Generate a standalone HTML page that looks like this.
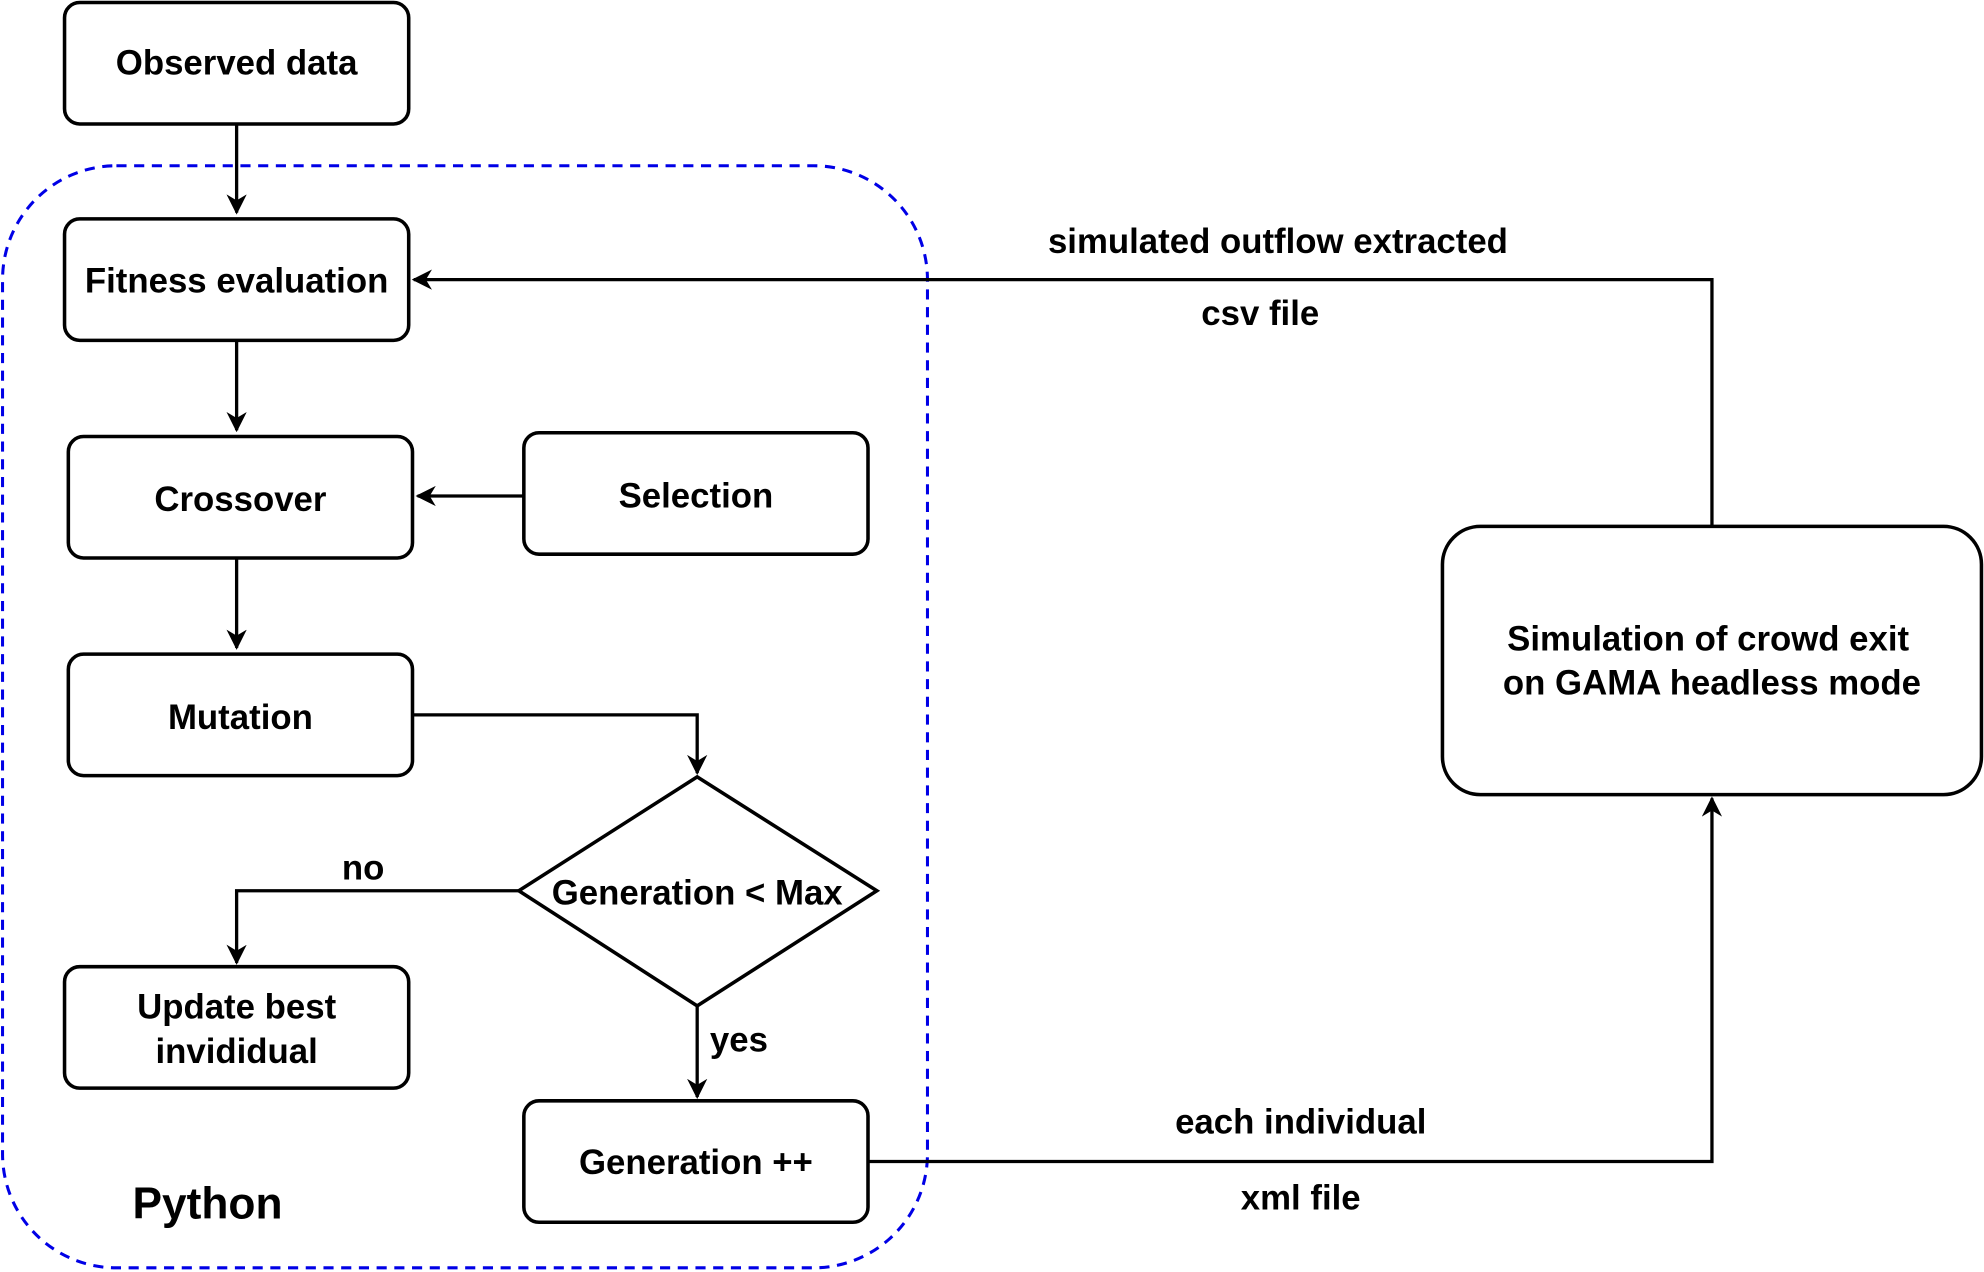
<!DOCTYPE html>
<html><head><meta charset="utf-8"><style>
html,body{margin:0;padding:0;background:#fff;}
svg{display:block;}
text{font-family:"Liberation Sans",sans-serif;font-weight:bold;fill:#000;}
</style></head><body>
<svg width="1984" height="1272" viewBox="0 0 1568 1005.3" xmlns="http://www.w3.org/2000/svg">
<defs>
<marker id="b" viewBox="0 0 10 10" refX="9" refY="5" markerWidth="16" markerHeight="16" markerUnits="userSpaceOnUse" orient="auto">
<path d="M0,0 L10,5 L0,10 L3,5 Z" fill="#000"/></marker></defs>
<rect x="2" y="131" width="731" height="871" rx="90" fill="none" stroke="#0000e6" stroke-width="2.4" stroke-dasharray="8 6"/>
<g fill="#fff" stroke="#000" stroke-width="2.8">
<rect x="51" y="2" width="272" height="96" rx="12"/>
<rect x="51" y="173" width="272" height="96" rx="12"/>
<rect x="54" y="345" width="272" height="96" rx="12"/>
<rect x="414" y="342" width="272" height="96" rx="12"/>
<rect x="54" y="517" width="272" height="96" rx="12"/>
<rect x="51" y="764" width="272" height="96" rx="12"/>
<rect x="414" y="870" width="272" height="96" rx="12"/>
<rect x="1140" y="416" width="426" height="212" rx="30"/>
<polygon points="551,614 693,704 551,795 410,704"/>
</g>
<g fill="none" stroke="#000" stroke-width="2.6">
<path d="M187,98 V168" marker-end="url(#b)"/>
<path d="M187,269 V340" marker-end="url(#b)"/>
<path d="M187,441 V512" marker-end="url(#b)"/>
<path d="M414,392 H330" marker-end="url(#b)"/>
<path d="M326,565 H551 V611" marker-end="url(#b)"/>
<path d="M410,704 H187 V761" marker-end="url(#b)"/>
<path d="M551,795 V867" marker-end="url(#b)"/>
<path d="M686,918 H1353 V631" marker-end="url(#b)"/>
<path d="M1353,416 V221 H327" marker-end="url(#b)"/>
</g>
<g font-size="27.5" text-anchor="middle">
<text x="187" y="59">Observed data</text>
<text x="187" y="231">Fitness evaluation</text>
<text x="190" y="404">Crossover</text>
<text x="550" y="401">Selection</text>
<text x="190" y="576">Mutation</text>
<text x="551" y="715">Generation &lt; Max</text>
<text x="187" y="805">Update best</text>
<text x="187" y="840">invididual</text>
<text x="550" y="928">Generation ++</text>
<text x="1350" y="514">Simulation of crowd exit</text>
<text x="1353" y="549">on GAMA headless mode</text>
<text x="287" y="695">no</text>
<text x="584" y="831">yes</text>
<text x="1028" y="896">each individual</text>
<text x="1028" y="956">xml file</text>
<text x="1010" y="200">simulated outflow extracted</text>
<text x="996" y="257">csv file</text>
<text x="164" y="963" font-size="35">Python</text>
</g>
</svg>
</body></html>
